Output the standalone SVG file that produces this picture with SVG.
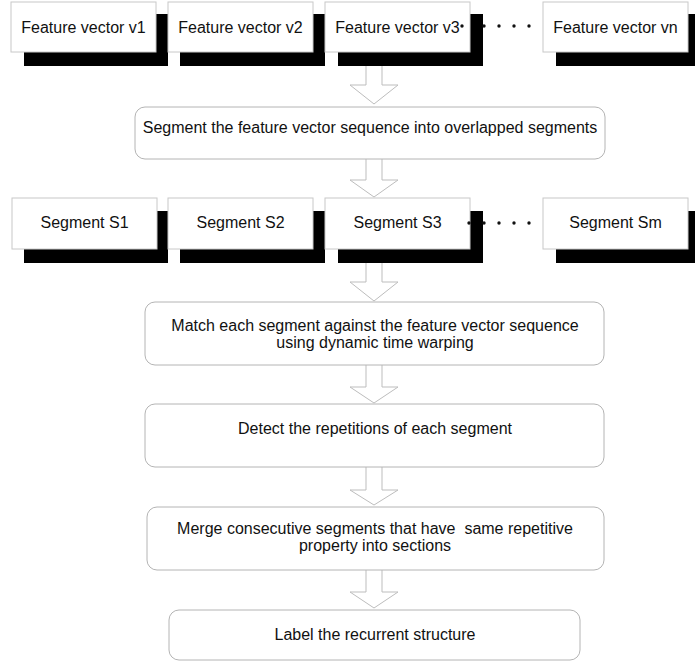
<svg xmlns="http://www.w3.org/2000/svg" width="695" height="662" viewBox="0 0 695 662">
<style>
.bg{fill:#ffffff}
.shadow{fill:#000000}
.box{fill:#ffffff;stroke:#c8c8c8;stroke-width:1}
.rbox{fill:#ffffff;stroke:#b4b4b4;stroke-width:1}
.t{font-family:"Liberation Sans",Arial,sans-serif;font-size:16px;fill:#111111;text-anchor:middle}
.arrow{fill:#ffffff;stroke:#bdbdbd;stroke-width:1;stroke-linejoin:miter}
.dot{fill:#111111}
</style>
<rect class="bg" x="0" y="0" width="695" height="662"/>

<g id="connectors">
  <polyline class="arrow" points="366,66 366,85 350,85 374,104 398,85 382,85 382,66"/>
  <polyline class="arrow" points="366,159 366,180 350,180 374,197 398,180 382,180 382,159"/>
  <polyline class="arrow" points="366,263 366,282 350,282 374,301 398,282 382,282 382,263"/>
  <polyline class="arrow" points="366,365 366,387 350,387 374,403 398,387 382,387 382,365"/>
  <polyline class="arrow" points="366,467 366,490 350,490 374,505 398,490 382,490 382,467"/>
  <polyline class="arrow" points="366,570 366,592 350,592 374,608 398,592 382,592 382,570"/>
</g>

<g id="v1">
  <rect class="shadow" x="24" y="14" width="144" height="52"/>
  <rect class="box" x="11" y="2" width="145" height="50"/>
  <text class="t" x="83.5" y="33">Feature vector v1</text>
</g>
<g id="v2">
  <rect class="shadow" x="180" y="14" width="145" height="52"/>
  <rect class="box" x="168" y="2" width="145" height="50"/>
  <text class="t" x="240.5" y="33">Feature vector v2</text>
</g>
<g id="v3">
  <rect class="shadow" x="338" y="14" width="145" height="52"/>
  <rect class="box" x="325" y="2" width="145" height="50"/>
  <text class="t" x="397.5" y="33">Feature vector v3</text>
</g>
<g id="dots1">
  <circle class="dot" cx="462" cy="26" r="1.7"/>
  <circle class="dot" cx="484" cy="26" r="1.7"/>
  <circle class="dot" cx="499" cy="26" r="1.7"/>
  <circle class="dot" cx="514" cy="26" r="1.7"/>
  <circle class="dot" cx="529" cy="26" r="1.7"/>
</g>
<g id="vn">
  <rect class="shadow" x="556" y="14" width="139" height="52"/>
  <rect class="box" x="543" y="2" width="145" height="50"/>
  <text class="t" x="615.5" y="33">Feature vector vn</text>
</g>

<g id="segment-step">
  <rect class="rbox" x="135" y="107" width="470" height="52" rx="10" ry="10"/>
  <text class="t" x="370" y="133">Segment the feature vector sequence into overlapped segments</text>
</g>

<g id="s1">
  <rect class="shadow" x="24" y="211" width="144" height="52"/>
  <rect class="box" x="12" y="198" width="145" height="51"/>
  <text class="t" x="84.5" y="228">Segment S1</text>
</g>
<g id="s2">
  <rect class="shadow" x="180" y="211" width="145" height="52"/>
  <rect class="box" x="168" y="198" width="145" height="51"/>
  <text class="t" x="240.5" y="228">Segment S2</text>
</g>
<g id="s3">
  <rect class="shadow" x="338" y="211" width="145" height="52"/>
  <rect class="box" x="325" y="198" width="145" height="51"/>
  <text class="t" x="397.5" y="228">Segment S3</text>
</g>
<g id="dots2">
  <circle class="dot" cx="469" cy="223" r="1.7"/>
  <circle class="dot" cx="484" cy="223" r="1.7"/>
  <circle class="dot" cx="499" cy="223" r="1.7"/>
  <circle class="dot" cx="514" cy="223" r="1.7"/>
  <circle class="dot" cx="529" cy="223" r="1.7"/>
</g>
<g id="sm">
  <rect class="shadow" x="556" y="211" width="139" height="52"/>
  <rect class="box" x="543" y="198" width="145" height="51"/>
  <text class="t" x="615.5" y="228">Segment Sm</text>
</g>

<g id="match">
  <rect class="rbox" x="145" y="302" width="459" height="63" rx="10" ry="10"/>
  <text class="t" x="375" y="331">Match each segment against the feature vector sequence</text>
  <text class="t" x="375" y="348">using dynamic time warping</text>
</g>

<g id="detect">
  <rect class="rbox" x="145" y="404" width="459" height="63" rx="10" ry="10"/>
  <text class="t" x="375" y="434">Detect the repetitions of each segment</text>
</g>

<g id="merge">
  <rect class="rbox" x="147" y="507" width="457" height="63" rx="10" ry="10"/>
  <text class="t" x="375" y="534" xml:space="preserve">Merge consecutive segments that have  same repetitive</text>
  <text class="t" x="375" y="551">property into sections</text>
</g>

<g id="label">
  <rect class="rbox" x="169" y="610" width="411" height="50" rx="10" ry="10"/>
  <text class="t" x="375" y="640">Label the recurrent structure</text>
</g>
</svg>
